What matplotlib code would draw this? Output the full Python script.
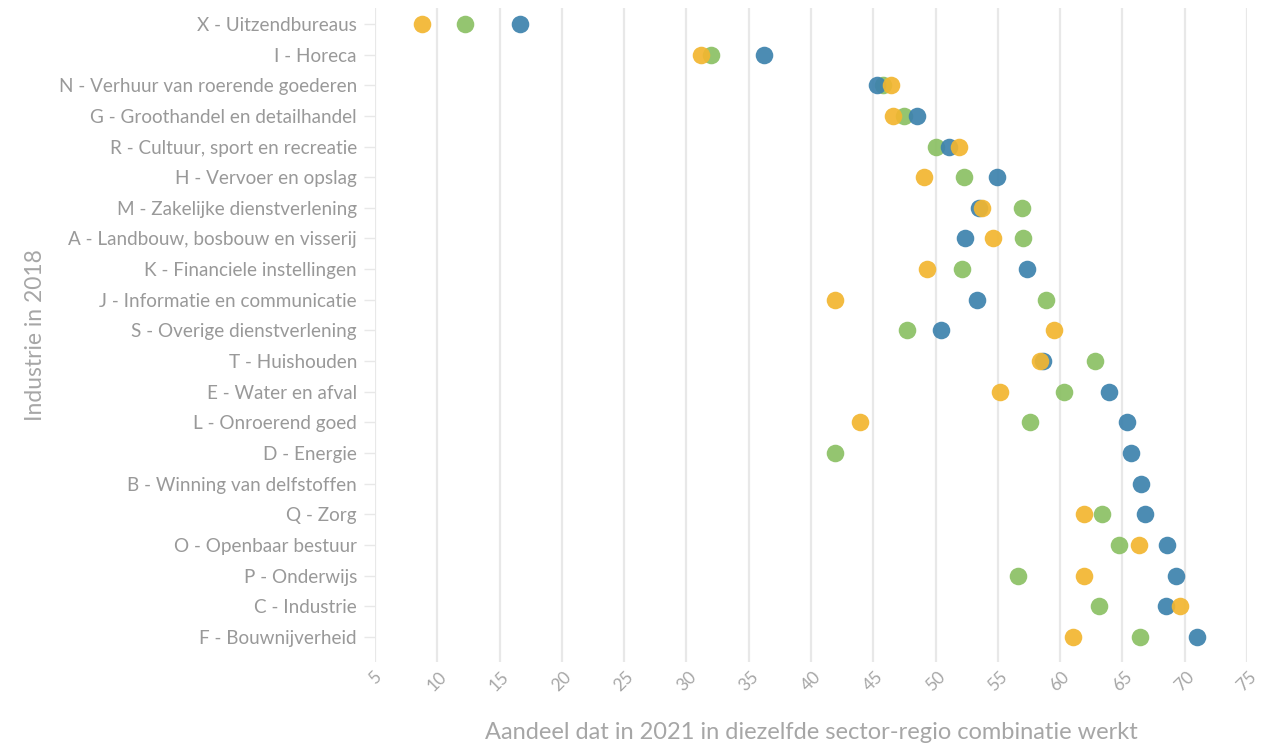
import matplotlib
matplotlib.use("Agg")
import matplotlib.pyplot as plt
import numpy as np

plt.rcParams['font.family'] = ['Lato', 'DejaVu Sans']

categories = [
    "X - Uitzendbureaus",
    "I - Horeca",
    "N - Verhuur van roerende goederen",
    "G - Groothandel en detailhandel",
    "R - Cultuur, sport en recreatie",
    "H - Vervoer en opslag",
    "M - Zakelijke dienstverlening",
    "A - Landbouw, bosbouw en visserij",
    "K - Financiele instellingen",
    "J - Informatie en communicatie",
    "S - Overige dienstverlening",
    "T - Huishouden",
    "E - Water en afval",
    "L - Onroerend goed",
    "D - Energie",
    "B - Winning van delfstoffen",
    "Q - Zorg",
    "O - Openbaar bestuur",
    "P - Onderwijs",
    "C - Industrie",
    "F - Bouwnijverheid",
]

blue_values = [16.6, 36.2, 45.3, 48.5, 51.1, 54.9, 53.5, 52.4, 57.3, 53.3, 50.4,
               58.6, 63.9, 65.4, 65.7, 66.5, 66.8, 68.6, 69.3, 68.5, 71.0]
green_values = [12.2, 32.0, 45.8, 47.5, 50.0, 52.3, 56.9, 57.0, 52.1, 58.9, 47.7,
                62.8, 60.3, 57.6, 41.9, np.nan, 63.4, 64.7, 56.6, 63.1, 66.4]
yellow_values = [8.8, 31.2, 46.4, 46.6, 51.9, 49.1, 53.7, 54.6, 49.3, 41.9, 59.5,
                 58.4, 55.2, 43.9, np.nan, np.nan, 61.9, 66.3, 61.9, 69.6, 61.0]

x_ticks = [5, 10, 15, 20, 25, 30, 35, 40, 45, 50, 55, 60, 65, 70, 75]

fig = plt.figure(figsize=(12.63, 7.47), dpi=100)
ax = fig.add_axes([375 / 1263, 1 - 662 / 747, (1247 - 375) / 1263, (662 - 8) / 747])

y = np.arange(len(categories))
s = 160
ax.scatter(green_values, y, s=s, color="#8bc064", alpha=0.92, linewidths=0, zorder=3)
ax.scatter(blue_values, y, s=s, color="#3d82ad", alpha=0.92, linewidths=0, zorder=3)
ax.scatter(yellow_values, y, s=s, color="#f2b630", alpha=0.92, linewidths=0, zorder=3)

ax.set_xlim(5, 75)
ax.set_ylim(len(categories) - 1 + 0.82, -0.52)
ax.set_xticks(x_ticks)
ax.set_xticklabels([str(t) for t in x_ticks], rotation=45, ha="center",
                   fontsize=12.5, color="#a6a6a6")
ax.set_yticks(y)
ax.set_yticklabels(categories, fontsize=13.6, color="#999999")
ax.grid(axis="x", color="#e8e8e8", linewidth=1.6, zorder=0)
ax.set_axisbelow(True)
for sp in ax.spines.values():
    sp.set_visible(False)
ax.tick_params(axis="x", length=0, pad=5)
ax.tick_params(axis="y", length=8, width=1, color="#e8e8e8", pad=5)

ax.set_xlabel("Aandeel dat in 2021 in diezelfde sector-regio combinatie werkt",
              fontsize=17, color="#a6a6a6", labelpad=20)
ax.set_ylabel("Industrie in 2018", fontsize=16.5, color="#a6a6a6", labelpad=9)

fig.savefig("out.png", dpi=100)
